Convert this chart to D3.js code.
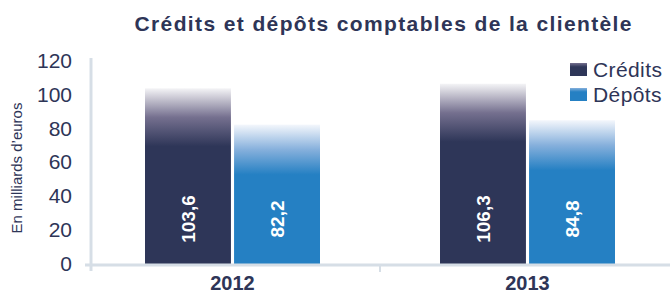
<!DOCTYPE html>
<html>
<head>
<meta charset="utf-8">
<script src="https://cdn.jsdelivr.net/npm/d3@7"></script>
<style>
body { margin: 0; background: #fff; }
svg { display: block; font-family: "Liberation Sans", Arial, sans-serif; }
</style>
</head>
<body>
<div class="chart"></div>
<script>
const width = 670;
const height = 294;

// données
const years = ["2012", "2013"];
const series = ["Crédits", "Dépôts"];
const credits = [103.6, 106.3];
const depots = [82.2, 84.8];
const yTicks = [0, 20, 40, 60, 80, 100, 120];

const colors = {"Crédits": "#2e3658", "Dépôts": "#2580c3"};
const fadeTop = {"Crédits": ["#f4f4f6", "#75708f"], "Dépôts": ["#f4f7fc", "#86b0dc"]};
const textColor = "#2e3557";
const axisColor = "#d6dee6";

const svg = d3.select(".chart").append("svg")
    .attr("width", width)
    .attr("height", height)
    .attr("viewBox", [0, 0, width, height]);

const defs = svg.append("defs");

const data = [];
years.forEach(function(y, i) {
    data.push({year: y, serie: "Crédits", value: credits[i]});
    data.push({year: y, serie: "Dépôts", value: depots[i]});
});

const yScale = d3.scaleLinear().domain([0, 120]).range([264, 60.5]);
const xScale = d3.scaleBand().domain(years).range([85, 675]);
const xInner = d3.scaleBand().domain(series).range([60, 235]).paddingInner(0.035);

// titre
svg.append("text")
    .attr("x", 383).attr("y", 31)
    .attr("text-anchor", "middle")
    .attr("font-size", 21).attr("font-weight", "bold")
    .attr("fill", textColor)
    .attr("textLength", 497).attr("lengthAdjust", "spacing")
    .text("Crédits et dépôts comptables de la clientèle");

// axe Y
const yAxis = svg.append("g")
    .attr("transform", "translate(90,0)")
    .call(d3.axisLeft(yScale).tickValues(yTicks).tickSize(0).tickPadding(18));
yAxis.select(".domain").remove();
yAxis.selectAll("text")
    .attr("font-size", 21).attr("fill", textColor)
    .attr("font-family", "Liberation Sans, Arial, sans-serif");
svg.append("line")
    .attr("x1", 91).attr("x2", 91).attr("y1", 58).attr("y2", 271)
    .attr("stroke", axisColor).attr("stroke-width", 3);

svg.append("text")
    .attr("transform", "translate(22,168) rotate(-90)")
    .attr("text-anchor", "middle")
    .attr("font-size", 15).attr("fill", textColor)
    .text("En milliards d’euros");

// barres
const bars = svg.append("g");
data.forEach(function(d, i) {
    const x = xScale(d.year) + xInner(d.serie);
    const y = yScale(d.value);
    const h = yScale(0) - y;
    const fade = d.serie === "Crédits" ? 58 : 50;
    const id = "grad" + i;
    const g = defs.append("linearGradient").attr("id", id)
        .attr("gradientUnits", "userSpaceOnUse")
        .attr("x1", 0).attr("x2", 0).attr("y1", y).attr("y2", y + fade);
    g.append("stop").attr("offset", 0).attr("stop-color", fadeTop[d.serie][0]);
    g.append("stop").attr("offset", 0.5).attr("stop-color", fadeTop[d.serie][1]);
    g.append("stop").attr("offset", 1).attr("stop-color", colors[d.serie]);
    bars.append("rect")
        .attr("x", x).attr("y", y)
        .attr("width", xInner.bandwidth()).attr("height", h)
        .attr("fill", "url(#" + id + ")");
    bars.append("text")
        .attr("transform", "translate(" + (x + xInner.bandwidth() / 2 + 7) + ",219) rotate(-90)")
        .attr("text-anchor", "middle")
        .attr("font-size", 19).attr("font-weight", "bold")
        .attr("fill", "#fff")
        .text(String(d.value).replace(".", ","));
});

// axe X
svg.append("line")
    .attr("x1", 85).attr("x2", 670).attr("y1", 265).attr("y2", 265)
    .attr("stroke", axisColor).attr("stroke-width", 3);
svg.append("line")
    .attr("x1", xScale("2013")).attr("x2", xScale("2013")).attr("y1", 265).attr("y2", 272)
    .attr("stroke", axisColor).attr("stroke-width", 2);
const xAxis = svg.append("g")
    .attr("transform", "translate(0,264)")
    .call(d3.axisBottom(xScale).tickSize(0));
xAxis.select(".domain").remove();
xAxis.selectAll("text")
    .attr("y", 26).attr("dy", null)
    .attr("font-size", 20).attr("font-weight", "bold").attr("fill", textColor)
    .attr("font-family", "Liberation Sans, Arial, sans-serif");

// légende
const legend = svg.append("g");
series.forEach(function(s, i) {
    const y = 62 + i * 25;
    const id = "lg" + i;
    const g = defs.append("linearGradient").attr("id", id)
        .attr("x1", 0).attr("x2", 0).attr("y1", 0).attr("y2", 1);
    g.append("stop").attr("offset", 0).attr("stop-color", fadeTop[s][1]);
    g.append("stop").attr("offset", 0.3).attr("stop-color", colors[s]);
    g.append("stop").attr("offset", 1).attr("stop-color", colors[s]);
    legend.append("rect")
        .attr("x", 570).attr("y", y + 1).attr("width", 17).attr("height", 13)
        .attr("fill", "url(#" + id + ")");
    legend.append("text")
        .attr("x", 593).attr("y", y + 15)
        .attr("font-size", 21).attr("letter-spacing", 0.4).attr("fill", textColor)
        .text(s);
});
</script>
</body>
</html>
